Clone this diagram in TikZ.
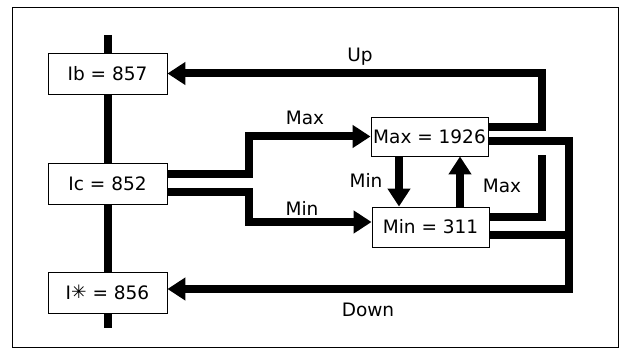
\documentclass[tikz,border=0pt]{standalone}
\usepackage{fontspec}
\setmainfont{DejaVu Sans}
\usetikzlibrary{arrows.meta}
\tikzset{
  box/.style={draw, line width=0.9pt, fill=white, rectangle, inner sep=0pt,
    minimum width=119pt, minimum height=41pt, font=\fontsize{18.5}{20}\selectfont},
  conn/.style={line width=8pt, line join=miter},
  arr/.style={conn, -{Triangle[length=18pt,width=22pt]}},
  lbl/.style={font=\fontsize{18.5}{20}\selectfont, inner sep=0pt},
  frame/.style={line width=0.9pt}
}
\begin{document}
\begin{tikzpicture}[x=1pt,y=-1pt]
\useasboundingbox (0,0) rectangle (624,358);
\draw[frame] (12,7) rectangle (618,347);
% vertical axis
\coordinate (axT) at (107.5,35);
\coordinate (axB) at (107.5,328);
\draw[line width=8pt] (axT) -- (axB);
% nodes
\node[box] (Ib) at (107.5,73.5) {Ib = 857};
\node[box] (Ic) at (107.5,183.5) {Ic = 852};
\node[box] (Is) at (107.5,292.5) {I\raisebox{0.5pt}{✳} = 856};
\node[box, minimum width=117pt, minimum height=39pt] (Mx) at (429.5,136.5) {Max = 1926};
\node[box, minimum width=117pt, minimum height=40pt] (Mn) at (430.5,227) {Min = 311};
% corner coordinates
\coordinate (u1) at (542,73.5);
\coordinate (d1) at (569,289);
\coordinate (s1) at (542,155);
\coordinate (c1) at (249,136.5);
\coordinate (c2) at (249,222);
% Up
\draw[arr] (Mx.east |- 0,127) -| (u1) -- (Ib.east);
% Down
\draw[arr] (Mx.east |- 0,141) -| (d1) -- (Is.east |- d1);
\draw[conn] (Mn.east |- 0,235) -- (d1 |- 0,235);
% Max stub from Min
\draw[conn] (Mn.east |- 0,217) -| (s1);
% from Ic
\draw[arr] (Ic.east |- 0,174.5) -| (c1) -- (Mx.west);
\draw[arr] (Ic.east |- 0,192) -| (c2) -- (Mn.west |- c2);
% Min down / Max up
\draw[arr] (Mx.south -| 399,0) -- (Mn.north -| 399,0);
\draw[arr] (Mn.north -| 460,0) -- (Mx.south -| 460,0);
% labels
\node[lbl] at (360,57) {Up};
\node[lbl] at (305,118) {Max};
\node[lbl] at (302,208) {Min};
\node[lbl] at (366,180) {Min};
\node[lbl] at (502,186) {Max};
\node[lbl] at (368,310) {Down};
\end{tikzpicture}
\end{document}
